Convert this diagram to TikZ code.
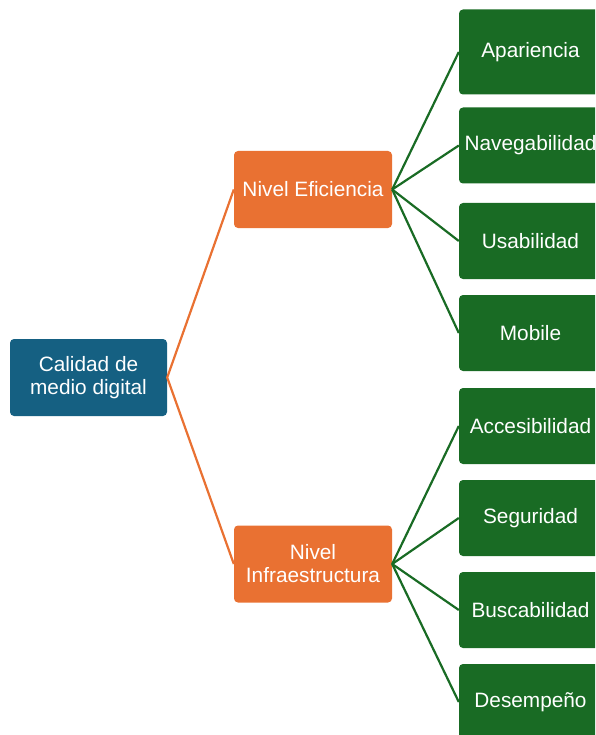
\documentclass[tikz,border=0pt]{standalone}
\usepackage{fontspec}
\setmainfont{Liberation Sans}
\begin{document}
\begin{tikzpicture}[x=1pt,y=-1pt,
  box/.style={rounded corners=4pt, text=white, align=center, inner sep=0pt,
    font=\fontsize{20.8}{23}\selectfont},
  rootbox/.style={box, fill=rootblue, minimum width=157pt, minimum height=77pt},
  midbox/.style={box, fill=midorange, minimum width=158pt, minimum height=77pt},
  leafbox/.style={box, fill=leafgreen, minimum width=143pt, minimum height=76pt},
  orangelink/.style={draw=midorange, line width=2.2pt},
  greenlink/.style={draw=leafgreen, line width=2.2pt}]
\definecolor{rootblue}{HTML}{156082}
\definecolor{midorange}{HTML}{E97132}
\definecolor{leafgreen}{HTML}{196B24}
\useasboundingbox (0,0) rectangle (595,735);
\clip (0,0) rectangle (595,735);

% root and level boxes
\node[rootbox] (root) at (88.5,377.5) {Calidad de\\medio digital};
\node[midbox] (efi) at (313,189.5) {Nivel Eficiencia};
\node[midbox] (inf) at (313,564) {Nivel\\Infraestructura};

% leaf boxes
\node[leafbox, minimum height=85pt] (a1) at (530.5,52) {Apariencia};
\node[leafbox] (a2) at (530.5,145.5) {Navegabilidad};
\node[leafbox] (a3) at (530.5,241) {Usabilidad};
\node[leafbox] (a4) at (530.5,333) {Mobile};
\node[leafbox] (b1) at (530.5,426) {Accesibilidad};
\node[leafbox] (b2) at (530.5,518) {Seguridad};
\node[leafbox] (b3) at (530.5,610) {Buscabilidad};
\node[leafbox] (b4) at (530.5,702) {Desempeño};

% connectors
\path[orangelink] (efi.west) -- (root.east) -- (inf.west);
\foreach \n in {a1,a2,a3,a4}{\path[greenlink] (efi.east) -- (\n.west);}
\foreach \n in {b1,b2,b3,b4}{\path[greenlink] (inf.east) -- (\n.west);}
\end{tikzpicture}
\end{document}
